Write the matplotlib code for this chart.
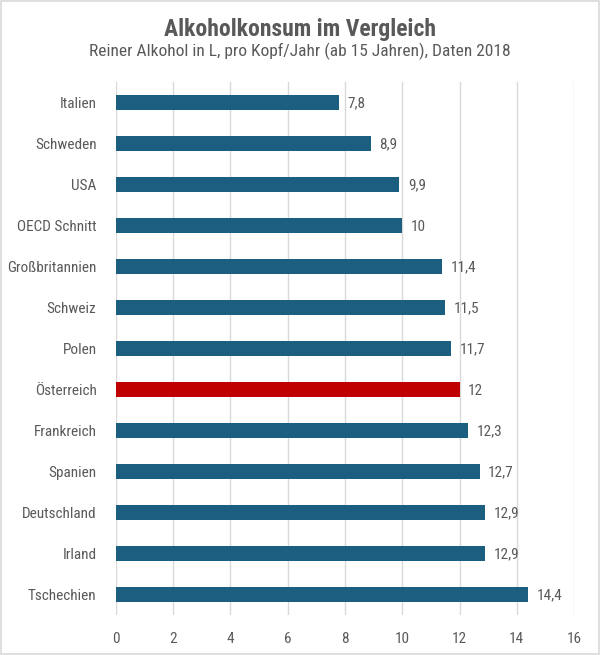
import matplotlib.pyplot as plt
from matplotlib.patches import Rectangle

plt.rcParams['font.family'] = ['Roboto Condensed', 'Roboto', 'DejaVu Sans']

laender = ['Italien', 'Schweden', 'USA', 'OECD Schnitt', 'Großbritannien', 'Schweiz', 'Polen',
           'Österreich', 'Frankreich', 'Spanien', 'Deutschland', 'Irland', 'Tschechien']
werte = [7.8, 8.9, 9.9, 10, 11.4, 11.5, 11.7, 12, 12.3, 12.7, 12.9, 12.9, 14.4]
highlight = 'Österreich'

blau = '#1B5E80'
rot = '#C00000'
grau = '#595959'

fig = plt.figure(figsize=(6, 6.55), dpi=100)
ax = fig.add_axes([0.1933, 0.0611, 0.7634, 0.8137])

farben = [rot if l == highlight else blau for l in laender]
ypos = list(range(len(laender)))
ax.barh(ypos, werte, height=0.37, color=farben, zorder=3)

for y, v in zip(ypos, werte):
    txt = f'{v:g}'.replace('.', ',')
    ax.text(v + 0.3, y + 0.03, txt, va='center', ha='left', fontsize=11, color=grau)

ax.set_xlim(0, 16)
ax.set_ylim(len(laender) - 0.5, -0.5)
ax.set_xticks(range(0, 17, 2))
ax.set_yticks(ypos)
ax.set_yticklabels(laender)
ax.tick_params(axis='both', length=0, colors=grau, labelsize=11)
ax.tick_params(axis='x', pad=12)
ax.tick_params(axis='y', pad=14)
ax.grid(axis='x', color='#D9D9D9', linewidth=1, zorder=0)
for s in ax.spines.values():
    s.set_visible(False)

fig.text(0.5, 0.955, 'Alkoholkonsum im Vergleich', ha='center', va='center',
         fontsize=17, fontweight='bold', color=grau)
fig.text(0.5, 0.921, 'Reiner Alkohol in L, pro Kopf/Jahr (ab 15 Jahren), Daten 2018',
         ha='center', va='center', fontsize=12.5, color=grau)

fig.patches.append(Rectangle((0.002, 0.002), 0.996, 0.996, transform=fig.transFigure,
                             fill=False, edgecolor='#D9D9D9', linewidth=1.2))

fig.savefig('out.png', dpi=100)
